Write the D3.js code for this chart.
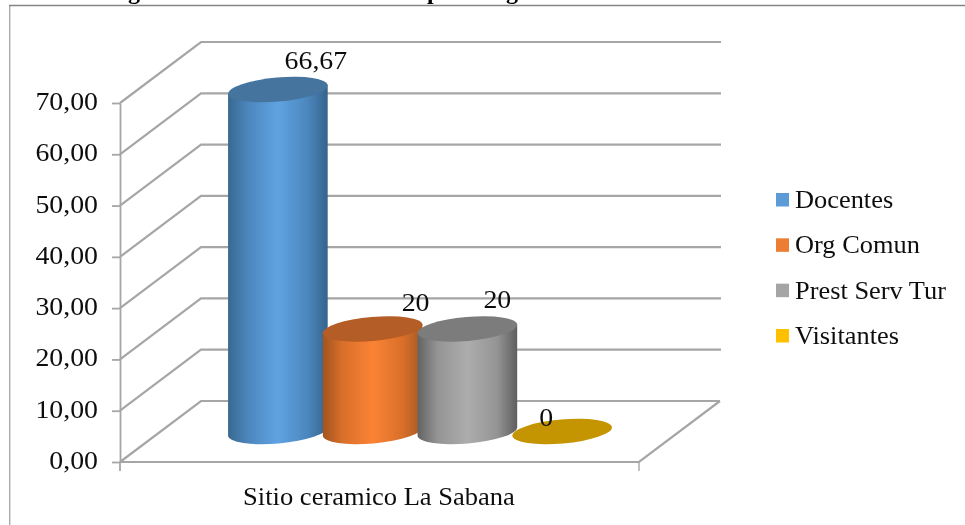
<!DOCTYPE html>
<html><head><meta charset="utf-8">
<script src="https://cdn.jsdelivr.net/npm/d3@7"></script>
<style>
html,body{margin:0;padding:0;background:#fff;overflow:hidden}
svg{display:block}
text{font-family:"Liberation Serif",serif;fill:#111}
</style></head><body>
<div id="chart"></div>
<script>
const category = "Sitio ceramico La Sabana";
const seriesNames = ["Docentes","Org Comun","Prest Serv Tur","Visitantes"];
const seriesValues = [66.67,20,20,0];
const seriesLabels = ["66,67","20","20","0"];
const yTicks = [0,10,20,30,40,50,60,70];
const legendColors = ["#5b9bd5","#ed7d31","#a5a5a5","#ffc000"];
const topColors = ["#44759f","#b55d25","#7c7c7c","#c49500"];
const sideColors = [
  ["#39688f","#4c86bd","#5fa3e2","#4c86bd","#35638c"],
  ["#a3541f","#d96f2b","#fb8333","#d96f2b","#a55a24"],
  ["#636363","#949494","#adadad","#949494","#5e5e5e"],
  ["#c49500","#c49500","#c49500","#c49500","#c49500"]
];
const titleGlyphs = ["g","p","g"];

const W=965,H=525;
const svg=d3.select("#chart").append("svg").attr("width",W).attr("height",H);
const defs=svg.append("defs");
defs.append("filter").attr("id","soft").attr("x",0).attr("y",0).attr("width",1).attr("height",1)
  .append("feGaussianBlur").attr("stdDeviation",0.45);
const root=svg.append("g").attr("filter","url(#soft)");

const stretch=(sel,f)=>sel.each(function(){
  const t=d3.select(this);
  t.attr("textLength",this.getComputedTextLength()*f).attr("lengthAdjust","spacingAndGlyphs");
});

// cut-off title above the frame
root.selectAll(".tg").data(titleGlyphs).join("text").attr("class","tg")
  .attr("x",(d,i)=>[128,427,506][i]).attr("y",-1.5)
  .attr("font-size",24).attr("font-weight","bold").style("fill","#000").text(d=>d);

// frame
root.append("path").attr("d",`M9.5,${H} V5.5`).attr("fill","none").attr("stroke","#aaaaaa").attr("stroke-width",1.8);
root.append("path").attr("d",`M9,5.5 H${W}`).attr("fill","none").attr("stroke","#858585").attr("stroke-width",1.6);

const y=d3.scaleLinear().domain([0,70]).range([462,103]);
const x=d3.scaleLinear().domain([0,1]).range([120,639]);
const dx=81, dy=-61;
const gridCol="#a6a6a6";

const grid=root.append("g").attr("fill","none").attr("stroke",gridCol).attr("stroke-width",2.2);
grid.selectAll("path").data(yTicks).join("path")
  .attr("d",d=>`M${x(0)},${y(d)} L${x(0)+dx},${y(d)+dy} H${x(1)+dx+(d===0?0:1)}`);
// floor
grid.append("path").attr("d",`M${x(0)},${y(0)} H${x(1)} L${x(1)+dx},${y(0)+dy}`);
grid.append("path").attr("d",`M${x(1)},${y(0)} V${y(0)+9}`).attr("stroke-width",1.4);
grid.append("path").attr("d",`M${x(0)},${y(0)} V${y(0)+9}`).attr("stroke-width",1.8);

// value axis
const axis=d3.axisLeft(y).tickValues(yTicks).tickSize(8).tickSizeOuter(0).tickPadding(14)
  .tickFormat(d=>d3.format(".2f")(d).replace(".",","));
const ag=root.append("g").attr("transform",`translate(${x(0)},0)`).call(axis);
ag.selectAll("path,line").attr("stroke",gridCol).attr("stroke-width",1.8);
ag.selectAll("text").attr("font-size",26).attr("dy",0).attr("y",6.5).style("font-family",'"Liberation Serif",serif').style("fill","#111");
ag.attr("font-family",null);
stretch(ag.selectAll("text"),1.07);

// cylinders
const band=d3.scaleBand().domain(seriesNames).range([230.5,609.5]);
const rx=50, ry=12, rot=-5;
const a=rx*Math.cos(rot*Math.PI/180), b=rx*Math.sin(-rot*Math.PI/180);
const cy=v=>y(v)+dy/2;
const cxOf=n=>band(n)+band.bandwidth()/2;

seriesNames.forEach((n,i)=>{
  const g=defs.append("linearGradient").attr("id","g"+i);
  g.selectAll("stop").data(sideColors[i]).join("stop")
    .attr("offset",(d,j)=>[0,0.2,0.5,0.8,1][j]).attr("stop-color",d=>d);
});
const bars=root.selectAll(".bar").data(seriesNames).join("g").attr("class","bar");
bars.filter((n,i)=>seriesValues[i]>0).append("path")
  .attr("fill",n=>`url(#g${seriesNames.indexOf(n)})`)
  .attr("d",n=>{
    const v=seriesValues[seriesNames.indexOf(n)],c=cxOf(n);
    return `M${c-a},${cy(v)+b} V${cy(0)+b} A${rx},${ry} ${rot} 0 0 ${c+a},${cy(0)-b} V${cy(v)-b} Z`;
  });
bars.append("ellipse")
  .attr("rx",rx).attr("ry",ry)
  .attr("fill",n=>topColors[seriesNames.indexOf(n)])
  .attr("transform",n=>`translate(${cxOf(n)},${cy(seriesValues[seriesNames.indexOf(n)])}) rotate(${rot})`);

// value labels (placed by hand as in the source chart)
const lblDx=[38,43,30,-16], lblDy=[-20.5,-18,-21,-6];
const vl=root.selectAll(".vl").data(seriesNames).join("text").attr("class","vl")
  .attr("text-anchor","middle").attr("font-size",26)
  .attr("x",(n,i)=>cxOf(n)+lblDx[i])
  .attr("y",(n,i)=>cy(seriesValues[i])+lblDy[i])
  .text((n,i)=>seriesLabels[i]);
stretch(vl,1.07);

// category label
const cat=root.append("text").attr("x",379).attr("y",505).attr("text-anchor","middle").attr("font-size",26).text(category);
stretch(cat,1.02);

// legend
const lg=d3.scalePoint().domain(seriesNames).range([200,336]);
const items=root.selectAll(".lg").data(seriesNames).join("g").attr("class","lg")
  .attr("transform",n=>`translate(776,${lg(n)})`);
items.append("rect").attr("x",0).attr("y",-7).attr("width",13).attr("height",13.5).attr("fill",(n,i)=>legendColors[i]);
const lt=items.append("text").attr("x",19).attr("y",8).attr("font-size",26).text(n=>n);
stretch(lt,1.015);
</script></body></html>
